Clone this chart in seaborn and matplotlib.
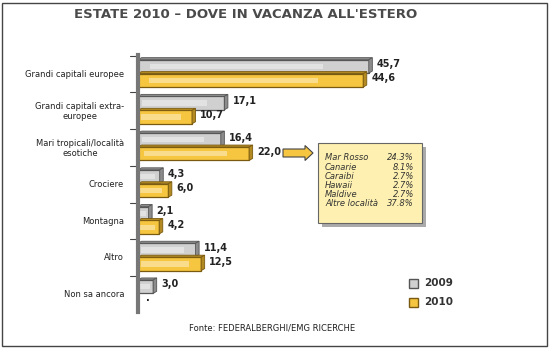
import matplotlib
matplotlib.use("Agg")
import matplotlib.pyplot as plt
import seaborn as sns
import pandas as pd
import numpy as np
from matplotlib.patches import Rectangle, FancyArrow

categories = ["Grandi capitali europee", "Grandi capitali extra-\neuropee",
              "Mari tropicali/località\nesotiche", "Crociere", "Montagna", "Altro", "Non sa ancora"]
values_2009 = [45.7, 17.1, 16.4, 4.3, 2.1, 11.4, 3.0]
values_2010 = [44.6, 10.7, 22.0, 6.0, 4.2, 12.5, 0.0]
labels_2009 = ["45,7", "17,1", "16,4", "4,3", "2,1", "11,4", "3,0"]
labels_2010 = ["44,6", "10,7", "22,0", "6,0", "4,2", "12,5", "."]
years = ["2009", "2010"]
inset_names = ["Mar Rosso", "Canarie", "Caraibi", "Hawaii", "Maldive", "Altre località"]
inset_values = ["24.3%", "8.1%", "2.7%", "2.7%", "2.7%", "37.8%"]

sns.set_style("white")
plt.rcParams['font.family'] = ['DejaVu Sans']

df = pd.DataFrame({
    "cat": categories * 2,
    "val": values_2009 + values_2010,
    "year": [years[0]] * len(categories) + [years[1]] * len(categories),
})

fig = plt.figure(figsize=(5.5, 3.49), dpi=100)
W, H = 550, 349
ax = fig.add_axes([138 / W, 1 - 312 / H, 402 / W, 257 / H])

colors = {"2009": "#d0d0d0", "2010": "#f6c640"}
sns.barplot(data=df, y="cat", x="val", hue="year", orient="h", palette=colors,
            ax=ax, width=0.76, gap=0.04, legend=False, saturation=1)

edge = {"2009": "#555555", "2010": "#7a5a10"}
depth_dx, depth_dy = 0.7, 0.055
for cont, yr, labs in zip(ax.containers, years, [labels_2009, labels_2010]):
    for p, lab in zip(cont.patches, labs):
        p.set_edgecolor(edge[yr])
        p.set_linewidth(0.9)
        x0, y0 = p.get_x(), p.get_y()
        w, h = p.get_width(), p.get_height()
        if w > 0:
            dark = "#8c8c8c" if yr == "2009" else "#b38a22"
            top = plt.Polygon([[x0, y0], [x0 + depth_dx, y0 - depth_dy],
                               [x0 + w + depth_dx, y0 - depth_dy], [x0 + w, y0]],
                              closed=True, facecolor=dark, edgecolor=edge[yr], lw=0.6, zorder=p.get_zorder())
            side = plt.Polygon([[x0 + w, y0], [x0 + w + depth_dx, y0 - depth_dy],
                                [x0 + w + depth_dx, y0 + h - depth_dy], [x0 + w, y0 + h]],
                               closed=True, facecolor=dark, edgecolor=edge[yr], lw=0.6, zorder=p.get_zorder())
            ax.add_patch(top)
            ax.add_patch(side)
            ax.add_patch(Rectangle((x0 + w * 0.05, y0 + h * 0.3), w * 0.75, h * 0.4,
                                   facecolor="white", alpha=0.4, lw=0, zorder=p.get_zorder() + 0.1))
        ax.text(x0 + w + 1.6, y0 + h / 2 - 0.06, lab, va="center", ha="left",
                fontsize=7, fontweight="bold", color="#222222")

ax.set_xlim(0, 79.6)
ax.set_ylim(len(categories) - 0.5, -0.5)
ax.set_xlabel("")
ax.set_ylabel("")
ax.set_xticks([])
ax.tick_params(axis="y", length=0, pad=10)
ax.set_yticks(range(len(categories)))
ax.set_yticklabels(categories, fontsize=6, color="#222222", multialignment="center")
for s in ["top", "right", "bottom"]:
    ax.spines[s].set_visible(False)
ax.spines["left"].set_color("#777777")
ax.spines["left"].set_linewidth(3)
for b in np.arange(-0.5, len(categories) - 0.5, 1.0):
    ax.plot([-1.6, 0], [b + 0.02, b + 0.02], color="#444444", lw=0.8, clip_on=False)

fig.text(246 / W, 1 - 15 / H, "ESTATE 2010 – DOVE IN VACANZA ALL'ESTERO", ha="center", va="center",
         fontsize=9.5, fontweight="bold", color="#4a4a4a")

fig.patches.append(Rectangle((2 / W, 3 / H), 545 / W, 343 / H, transform=fig.transFigure,
                             fill=False, edgecolor="#444444", lw=1.0))

fig.patches.append(FancyArrow(283 / W, 1 - 153 / H, 22 / W, 0, width=8 / H, head_width=15 / H,
                              head_length=8 / W, transform=fig.transFigure, length_includes_head=False,
                              facecolor="#f6c640", edgecolor="#444444", lw=0.8))

fig.patches.append(Rectangle((322 / W, 1 - 227 / H), 104 / W, 80 / H, transform=fig.transFigure,
                             facecolor="#aaaaaa", edgecolor="none"))
fig.patches.append(Rectangle((318 / W, 1 - 223 / H), 104 / W, 80 / H, transform=fig.transFigure,
                             facecolor="#fdf0b0", edgecolor="#666666", lw=0.8))
for i, (n, v) in enumerate(zip(inset_names, inset_values)):
    yy = 1 - (158 + i * 9.1) / H
    fig.text(325 / W, yy, n, ha="left", va="center", fontsize=6, style="italic", color="#333333")
    fig.text(414 / W, yy, v, ha="right", va="center", fontsize=6, style="italic", color="#333333")

for i, yr in enumerate(years):
    yy = 1 - (283 + i * 19) / H
    fig.patches.append(Rectangle((409 / W, yy - 4.5 / H), 9 / W, 9 / H, transform=fig.transFigure,
                                 facecolor=colors[yr], edgecolor=edge[yr], lw=1.0))
    fig.text(424 / W, yy, yr, ha="left", va="center", fontsize=7.5, fontweight="bold", color="#333333")

fig.text(272 / W, 1 - 328 / H, "Fonte: FEDERALBERGHI/EMG RICERCHE", ha="center", va="center",
         fontsize=6, color="#222222")

fig.savefig("out.png", dpi=100)
